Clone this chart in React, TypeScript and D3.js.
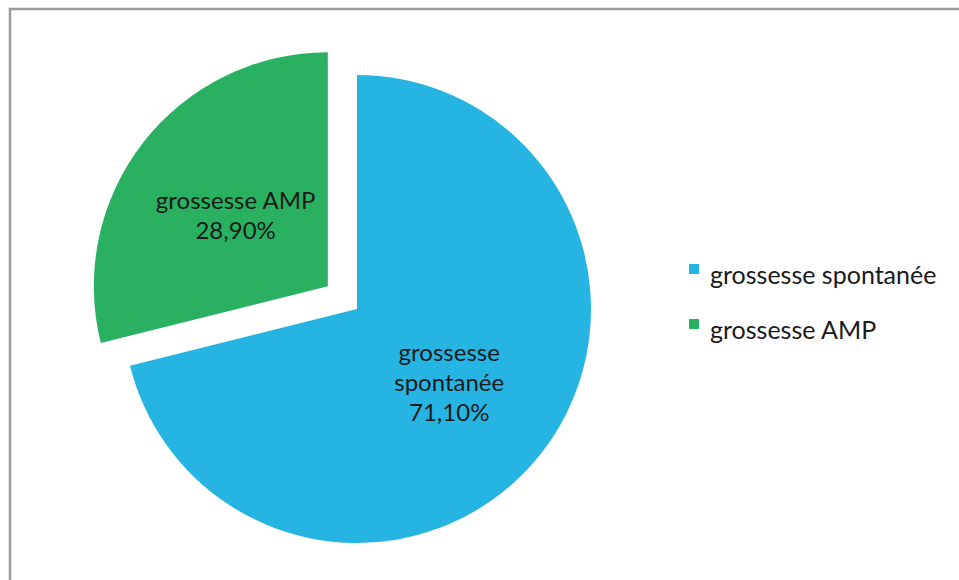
import React from 'react';
import * as d3 from 'd3';

// données du graphique
const categories = ['grossesse spontanée', 'grossesse AMP'];
const values = [71.1, 28.9];
const colors = ['#26B4E3', '#29B161'];
// lignes des étiquettes dans les secteurs
const sliceLabels = [
  ['grossesse', 'spontanée', '71,10%'],
  ['grossesse AMP', '28,90%'],
];
const explode = [0, 37];

const W = 959;
const H = 580;
const FONT = 'Lato, "Open Sans", sans-serif';

type Slice = { name: string; value: number; color: string; lines: string[]; offset: number };

const App: React.FC = () => {
  const data: Slice[] = categories.map((name, i) => ({
    name,
    value: values[i],
    color: colors[i],
    lines: sliceLabels[i],
    offset: explode[i],
  }));

  const cx = 357;
  const cy = 309;
  const radius = 234;
  const lineH = 30;

  const pie = d3.pie<Slice>().sort(null).value((d) => d.value);
  const arcs = pie(data);
  const arc = d3.arc<d3.PieArcDatum<Slice>>().innerRadius(0).outerRadius(radius);

  // légende
  const legendX = 689;
  const legendY = 264;
  const legendStep = 55;
  const sw = 10;

  return (
    <svg
      width={W}
      height={H}
      style={{ position: 'absolute', left: 0, top: 0, background: '#fff' }}
    >
      <rect x={10} y={9} width={W + 10} height={H + 10} fill="#fff" stroke="#9a9a9a" strokeWidth={2.5} />
      <g transform={`translate(${cx},${cy})`}>
        {arcs.map((a, i) => {
          const mid = (a.startAngle + a.endAngle) / 2;
          const dx = Math.sin(mid) * a.data.offset;
          const dy = -Math.cos(mid) * a.data.offset;
          const [lx, ly] = arc.centroid(a);
          const n = a.data.lines.length;
          return (
            <g key={i} transform={`translate(${dx},${dy})`}>
              <path d={arc(a) ?? ''} fill={a.data.color} />
              <text
                x={lx}
                y={ly - ((n - 1) * lineH) / 2 + 10}
                textAnchor="middle"
                fontFamily={FONT}
                fontSize={24}
                fill="#1a1a1a"
              >
                {a.data.lines.map((t, j) => (
                  <tspan key={j} x={lx} dy={j === 0 ? 0 : lineH}>
                    {t}
                  </tspan>
                ))}
              </text>
            </g>
          );
        })}
      </g>
      <g>
        {data.map((d, i) => (
          <g key={i} transform={`translate(${legendX},${legendY + i * legendStep})`}>
            <rect width={sw} height={sw} fill={d.color} />
            <text x={21} y={20} fontFamily={FONT} fontSize={25} fill="#1a1a1a">
              {d.name}
            </text>
          </g>
        ))}
      </g>
    </svg>
  );
};

export default App;
